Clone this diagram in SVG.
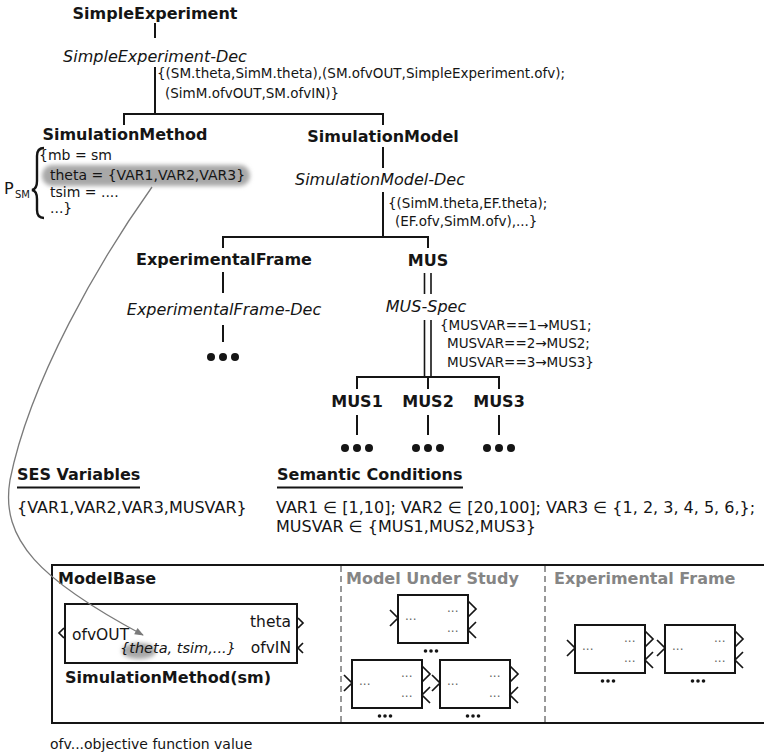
<svg xmlns="http://www.w3.org/2000/svg" width="764" height="755" viewBox="0 0 764 755">
<defs>
<style>
text{font-family:"DejaVu Sans","Liberation Sans",sans-serif;fill:#151515}
.b{font-weight:bold;font-size:16px}
.i{font-style:italic;font-size:16px}
.m{text-anchor:middle}
.lbl{font-size:13.5px}
.t{font-size:16px}
.ps{font-size:14px}
.pt{font-size:15.5px}
.g{fill:#858585}
.dd{font-size:12px;fill:#666}
.ln{stroke:#151515;stroke-width:2;fill:none}
.ln2{stroke:#151515;stroke-width:1.6;fill:none}
.port{stroke:#151515;stroke-width:1.7;fill:none}
.bx{stroke:#151515;stroke-width:2;fill:none}
.dot{fill:#151515}
.hl{fill:#a8a8a8;filter:url(#blur)}
</style>
<filter id="blur" x="-20%" y="-50%" width="140%" height="200%"><feGaussianBlur stdDeviation="2.2"/></filter>
<marker id="ah" viewBox="0 0 10 10" refX="9" refY="5" markerWidth="10" markerHeight="9" orient="auto" markerUnits="userSpaceOnUse">
<path d="M0,1 L10,5 L0,9 Z" fill="#7a7a7a"/>
</marker>
<g id="blk">
<rect x="0" y="0" width="70" height="48" class="bx"/>
<polyline class="port" points="-8,15 0,23 -8,31"/>
<polyline class="port" points="70,6 78,14 70,22"/>
<polyline class="port" points="78,27 70,35 78,43"/>
<text x="7" y="25" class="dd">...</text>
<text x="49" y="17" class="dd">...</text>
<text x="49" y="37" class="dd">...</text>
<circle cx="27.5" cy="56" r="1.8" class="dot"/>
<circle cx="33" cy="56" r="1.8" class="dot"/>
<circle cx="38.5" cy="56" r="1.8" class="dot"/>
</g>
</defs>
<rect width="764" height="755" fill="#fff"/>

<g id="n-simpleexperiment"><text x="155" y="19" class="b m">SimpleExperiment</text></g>
<g id="n-simpleexperiment-dec"><text x="155" y="62" class="i m">SimpleExperiment-Dec</text>
<text x="157" y="78" class="lbl">{(SM.theta,SimM.theta),(SM.ofvOUT,SimpleExperiment.ofv);</text>
<text x="165" y="98" class="lbl">(SimM.ofvOUT,SM.ofvIN)}</text></g>

<g id="n-simulationmethod"><text x="125" y="140" class="b m">SimulationMethod</text>
<rect x="42" y="165" width="208" height="21" rx="10" class="hl"/>
<path d="M44,148 Q37,148 37,156 L37,181 Q37,189 32,190 Q37,191 37,199 L37,210 Q37,218 44,218" fill="none" stroke="#151515" stroke-width="2.4"/>
<text x="4" y="194" style="font-size:16px">P</text>
<text x="15" y="198" style="font-size:10px">SM</text>
<text x="39" y="160" class="ps">{mb = sm</text>
<text x="50" y="180" class="ps">theta = {VAR1,VAR2,VAR3}</text>
<text x="50" y="197" class="ps">tsim = ....</text>
<text x="50" y="213" class="ps">...}</text></g>

<g id="n-simulationmodel"><text x="383" y="142" class="b m">SimulationModel</text></g>
<g id="n-simulationmodel-dec"><text x="380" y="185" class="i m">SimulationModel-Dec</text>
<text x="388" y="208" class="lbl">{(SimM.theta,EF.theta);</text>
<text x="395" y="226" class="lbl">(EF.ofv,SimM.ofv),...}</text></g>

<g id="n-experimentalframe"><text x="224" y="265" class="b m">ExperimentalFrame</text></g>
<g id="n-experimentalframe-dec"><text x="224" y="315" class="i m">ExperimentalFrame-Dec</text>
<circle cx="211" cy="357" r="4" class="dot"/><circle cx="223" cy="357" r="4" class="dot"/><circle cx="235" cy="357" r="4" class="dot"/></g>

<g id="n-mus"><text x="428" y="266" class="b m">MUS</text></g>
<g id="n-mus-spec"><text x="426" y="312" class="i m">MUS-Spec</text>
<text x="440" y="330" class="lbl">{MUSVAR==1→MUS1;</text>
<text x="447" y="348" class="lbl">MUSVAR==2→MUS2;</text>
<text x="447" y="367" class="lbl">MUSVAR==3→MUS3}</text></g>

<g id="n-mus1"><text x="357" y="407" class="b m">MUS1</text>
<circle cx="345" cy="448" r="4" class="dot"/><circle cx="357" cy="448" r="4" class="dot"/><circle cx="369" cy="448" r="4" class="dot"/></g>
<g id="n-mus2"><text x="428" y="407" class="b m">MUS2</text>
<circle cx="416" cy="448" r="4" class="dot"/><circle cx="428" cy="448" r="4" class="dot"/><circle cx="440" cy="448" r="4" class="dot"/></g>
<g id="n-mus3"><text x="499" y="407" class="b m">MUS3</text>
<circle cx="487" cy="448" r="4" class="dot"/><circle cx="499" cy="448" r="4" class="dot"/><circle cx="511" cy="448" r="4" class="dot"/></g>

<g id="ses-variables"><text x="17" y="480" class="b">SES Variables</text>
<path d="M17,487.5 H140" stroke="#151515" stroke-width="2"/>
<text x="17" y="513" class="t">{VAR1,VAR2,VAR3,MUSVAR}</text></g>

<g id="semantic-conditions"><text x="277" y="480" class="b">Semantic Conditions</text>
<path d="M277,487.5 H463" stroke="#151515" stroke-width="2"/>
<text x="276" y="513" class="t">VAR1 ∈ [1,10]; VAR2 ∈ [20,100]; VAR3 ∈ {1, 2, 3, 4, 5, 6,};</text>
<text x="276" y="532" class="t">MUSVAR ∈ {MUS1,MUS2,MUS3}</text></g>

<g id="modelbase-panel">
<rect x="52" y="565" width="730" height="158" fill="none" stroke="#151515" stroke-width="2"/>
<path d="M341,566 V722 M545,566 V722" stroke="#333" stroke-width="1" stroke-dasharray="6 4"/>
<text x="58" y="584" class="b">ModelBase</text>
<text x="346" y="584" class="b g">Model Under Study</text>
<text x="554" y="584" class="b g">Experimental Frame</text>
</g>

<g id="n-simulationmethod-sm">
<rect x="65" y="604" width="232" height="59" class="bx"/>
<polyline class="port" points="64,628 59,633 64,638"/>
<polyline class="port" points="298,618 303,623 298,628"/>
<polyline class="port" points="303,643 298,648 303,653"/>
<ellipse cx="139" cy="651" rx="17" ry="8" class="hl"/>
<text x="72" y="640" class="pt">ofvOUT</text>
<text x="291" y="627" class="pt" text-anchor="end">theta</text>
<text x="291" y="653" class="pt" text-anchor="end">ofvIN</text>
<text x="120" y="653" style="font-size:14.5px;font-style:italic">{theta, tsim,...}</text>
<text x="65" y="683" class="b">SimulationMethod(sm)</text>
</g>

<g id="mus-blocks">
<use href="#blk" x="398" y="595"/>
<use href="#blk" x="352" y="660"/>
<use href="#blk" x="440" y="660"/>
</g>
<g id="ef-blocks">
<use href="#blk" x="575" y="625"/>
<use href="#blk" x="665" y="625"/>
</g>

<g id="footnote"><text x="50" y="749" style="font-size:14px">ofv...objective function value</text></g>

<g id="connectors">
<path class="ln" d="M155,23 V38"/>
<path class="ln" d="M155,67 V114 M124,125 V114 H383 V125"/>
<path class="ln" d="M383,147 V168"/>
<path class="ln" d="M383,192 V237 M223,248 V237 H428 V248"/>
<path class="ln" d="M223,272 V293"/>
<path class="ln" d="M223,325 V342"/>
<path class="ln2" d="M424.5,273 V294 M431,273 V294"/>
<path class="ln2" d="M424.5,320 V377 M431,320 V377"/>
<path class="ln" d="M357,389 V377 H499 V389 M428,377 V389"/>
<path class="ln" d="M357,415 V435 M428,415 V435 M499,415 V435"/>
<path d="M152,187 C100,260 30,380 10,480 C0,540 40,580 143,635" fill="none" stroke="#7a7a7a" stroke-width="1.3" marker-end="url(#ah)"/>
</g>
</svg>
